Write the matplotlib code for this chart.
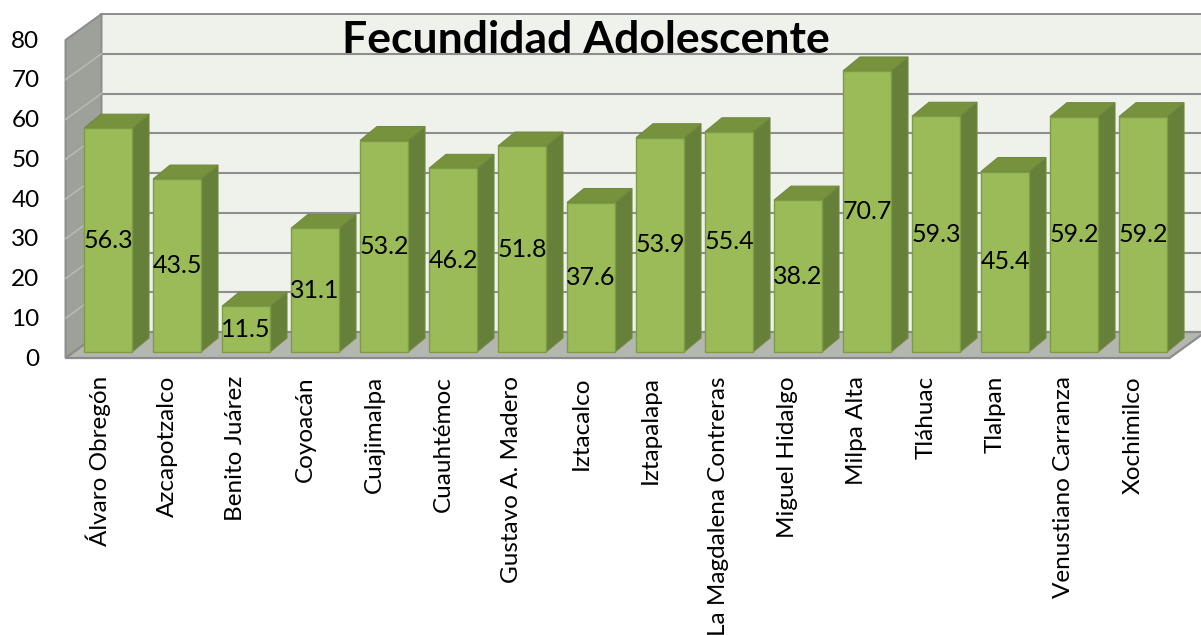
import matplotlib
matplotlib.use("Agg")
import matplotlib.pyplot as plt
from matplotlib.patches import Polygon

categories = ["Álvaro Obregón", "Azcapotzalco", "Benito Juárez", "Coyoacán",
              "Cuajimalpa", "Cuauhtémoc", "Gustavo A. Madero", "Iztacalco",
              "Iztapalapa", "La Magdalena Contreras", "Miguel Hidalgo",
              "Milpa Alta", "Tláhuac", "Tlalpan", "Venustiano Carranza",
              "Xochimilco"]
values = [56.3, 43.5, 11.5, 31.1, 53.2, 46.2, 51.8, 37.6, 53.9, 55.4,
          38.2, 70.7, 59.3, 45.4, 59.2, 59.2]
yticks = [0, 10, 20, 30, 40, 50, 60, 70, 80]
title = "Fecundidad Adolescente"

plt.rcParams['font.family'] = ['Lato', 'DejaVu Sans']

W, H, DPI = 1201, 635, 100
fig = plt.figure(figsize=(W / DPI, H / DPI), dpi=DPI)
ax = fig.add_axes([0, 0, 1, 1])
# pixel mapping: px = 100 + 69*x ; py(top) = 358 - 3.975*y
PX, PY = 69.0, 3.975
ax.set_xlim(-100 / PX, (W - 100) / PX)
ax.set_ylim((358 - H) / PY, 358 / PY)
ax.axis('off')

n = len(values)
ymax = yticks[-1]
# depth vectors (data units)
DX, DY = 36 / PX, 26 / PY          # floor front -> back wall
FX, FY = 8 / PX, 6 / PY            # floor front -> bar front plane
BX, BY = 17 / PX, 14 / PY          # bar depth
HW = 24 / PX                       # bar half width
x0, x1 = -0.5, n - 0.5             # floor extent

wall_edge = '#8c8c8c'
# back wall
ax.add_patch(Polygon([(x0 + DX, DY), (x1 + DX + 0.2, DY), (x1 + DX + 0.2, ymax + DY),
                      (x0 + DX, ymax + DY)], closed=True, facecolor='#eff1eb',
                     edgecolor=wall_edge, lw=1.4, zorder=1))
# side wall
ax.add_patch(Polygon([(x0, 0), (x0 + DX, DY), (x0 + DX, ymax + DY), (x0, ymax)],
                     closed=True, facecolor='#9ea09a', edgecolor=wall_edge,
                     lw=1.4, zorder=2))
# floor
ax.add_patch(Polygon([(x0, 0), (x1, 0), (x1 + DX, DY), (x0 + DX, DY)], closed=True,
                     facecolor='#b4b6b0', edgecolor=wall_edge, lw=1.6, zorder=2))
# gridlines
for t in yticks[1:-1]:
    ax.plot([x0 + DX, x1 + DX + 0.2], [t + DY, t + DY], color='#8e8e8e', lw=1.5, zorder=1.5)
    ax.plot([x0, x0 + DX], [t, t + DY], color='#b6b8b2', lw=1.2, zorder=2.5)

# bars
front_c, side_c, top_c, edge_c = '#9bbb59', '#66803a', '#77923d', '#71893f'
for i, v in enumerate(values):
    l = i + FX - HW
    r = i + FX + HW
    b = FY
    t = FY + v
    ax.add_patch(Polygon([(r, b), (r + BX, b + BY), (r + BX, t + BY), (r, t)],
                         closed=True, facecolor=side_c, edgecolor=edge_c, lw=0.8, zorder=3))
    ax.add_patch(Polygon([(l, t), (r, t), (r + BX, t + BY), (l + BX, t + BY)],
                         closed=True, facecolor=top_c, edgecolor=edge_c, lw=0.8, zorder=3))
    ax.add_patch(Polygon([(l, b), (r, b), (r, t), (l, t)], closed=True,
                         facecolor=front_c, edgecolor='#7e9c46', lw=1.0, zorder=4))
    ax.text(i + FX, FY + v / 2, f"{v:.1f}", ha='center', va='center',
            fontsize=18, color='black', zorder=5)

# y tick labels
for t in yticks:
    ax.annotate(str(t), xy=(x0, t), xytext=(-26, -1), textcoords='offset pixels',
                ha='right', va='center', fontsize=17.5, color='black')

# category labels
for i, c in enumerate(categories):
    ax.annotate(c, xy=(i, 0), xytext=(-2, -18), textcoords='offset pixels',
                ha='center', va='top', rotation=90, fontsize=17.5, color='black')

ax.text(586 / W, 1 - 40 / H, title, transform=ax.transAxes, ha='center', va='center',
        fontsize=32, fontweight='bold', color='black', zorder=6)

fig.savefig('out.png', dpi=DPI)
